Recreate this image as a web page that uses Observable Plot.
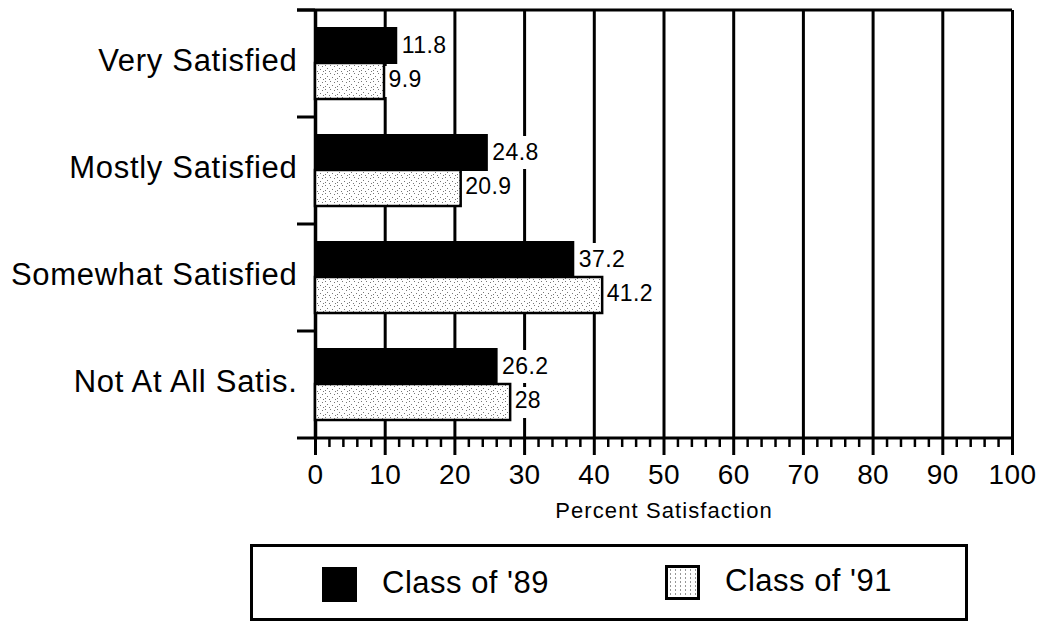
<!DOCTYPE html>
<html>
<head>
<meta charset="utf-8">
<script src="https://cdn.jsdelivr.net/npm/d3@7"></script>
<script src="https://cdn.jsdelivr.net/npm/@observablehq/plot@0.6"></script>
<style>
  html, body { margin: 0; padding: 0; background: #fff; }
  body { width: 1042px; height: 623px; overflow: hidden; position: relative; font-family: "Liberation Sans", Arial, Helvetica, sans-serif; }
  #legend { position: absolute; left: 250px; top: 544px; width: 712px; height: 71px; border: 3px solid #000; background: #fff; }
  .sw { position: absolute; width: 35px; height: 35px; box-sizing: border-box; }
  .lt { position: absolute; font-size: 31px; line-height: 35px; color: #000; white-space: nowrap; letter-spacing: 0.5px; }
  #chart g[aria-label="y-axis tick label"] text { letter-spacing: 0.7px; }
  #chart g[aria-label="x-axis tick label"] text { letter-spacing: 0.4px; }
  #chart .vlabel text { letter-spacing: 0.4px; }
  #chart .xtitle text { letter-spacing: 1.1px; }
</style>
</head>
<body>
<div id="chart"></div>
<div id="legend"></div>
<script>
// ---- data ----
const categories = ["Very Satisfied", "Mostly Satisfied", "Somewhat Satisfied", "Not At All Satis."];
const seriesNames = ["Class of '89", "Class of '91"];
const class89 = [11.8, 24.8, 37.2, 26.2];
const class91 = [9.9, 20.9, 41.2, 28];
const majorTicks = [0, 10, 20, 30, 40, 50, 60, 70, 80, 90, 100];
const minorTicks = [2, 4, 6, 8, 12, 14, 16, 18, 22, 24, 26, 28, 32, 34, 36, 38, 42, 44, 46, 48,
  52, 54, 56, 58, 62, 64, 66, 68, 72, 74, 76, 78, 82, 84, 86, 88, 92, 94, 96, 98];
const xLabel = "Percent Satisfaction";

// ---- layout ----
const W = 1042, H = 540;
const mTop = 10, mBottom = H - 438, mLeft = 315, mRight = 30;
const bw = (H - mTop - mBottom) / categories.length; // band height
const pxPerUnit = (W - mLeft - mRight) / 100;
const font = '"Liberation Sans", Arial, Helvetica, sans-serif';

const rows89 = categories.map((c, i) => ({category: c, value: class89[i], series: seriesNames[0]}));
const rows91 = categories.map((c, i) => ({category: c, value: class91[i], series: seriesNames[1]}));

// text width measurement for white label backgrounds
const ctx = document.createElement("canvas").getContext("2d");
ctx.font = "23px " + font;
const labelW = (v) => (ctx.measureText(String(v)).width + 8) / pxPerUnit;

const ins89 = {insetTop: 17, insetBottom: bw - 54};
const ins91 = {insetTop: 53, insetBottom: bw - 89};
const tickLen = 18 / pxPerUnit;

const chart = Plot.plot({
  width: W,
  height: H,
  marginTop: mTop,
  marginBottom: mBottom,
  marginLeft: mLeft,
  marginRight: mRight,
  style: {fontFamily: font, color: "#000", background: "#fff", overflow: "visible"},
  x: {domain: [0, 100]},
  y: {domain: categories, padding: 0},
  marks: [
    // vertical grid lines
    Plot.ruleX(majorTicks.slice(1), {stroke: "#000", strokeWidth: 3}),
    // left axis line
    Plot.ruleX([0], {stroke: "#000", strokeWidth: 3.5}),
    // category boundary ticks on the left (top edge of each band)
    Plot.barX(categories, {y: d => d, x1: -tickLen, x2: 0, fill: "#000", insetTop: -1.5, insetBottom: bw - 1.5}),
    // top frame line
    Plot.barX(categories.slice(0, 1), {y: d => d, x1: -tickLen, x2: 100, fill: "#000", insetTop: -1.5, insetBottom: bw - 1.5}),
    // bottom axis line
    Plot.barX(categories.slice(-1), {y: d => d, x1: -tickLen, x2: 100, fill: "#000", insetTop: bw - 1.5, insetBottom: -1.5}),
    // label backgrounds
    Plot.barX(rows89, {y: "category", x1: "value", x2: d => d.value + labelW(d.value), fill: "#fff", insetTop: 19, insetBottom: bw - 52}),
    Plot.barX(rows91, {y: "category", x1: "value", x2: d => d.value + labelW(d.value), fill: "#fff", insetTop: 56, insetBottom: bw - 87}),
    // bars
    Plot.barX(rows89, {y: "category", x: "value", fill: "#000", ...ins89}),
    Plot.barX(rows91, {y: "category", x: "value", fill: "url(#dots)", stroke: "#000", strokeWidth: 2.5, ...ins91}),
    // value labels
    Plot.text(rows89, {y: "category", x: "value", text: d => String(d.value), textAnchor: "start", dx: 4, dy: -18, fontSize: 23, fill: "#000", className: "vlabel"}),
    Plot.text(rows91, {y: "category", x: "value", text: d => String(d.value), textAnchor: "start", dx: 4, dy: 16, fontSize: 23, fill: "#000", className: "vlabel"}),
    // axes
    Plot.axisX({ticks: minorTicks, tickSize: 9, tickFormat: () => "", strokeWidth: 2.5, label: null}),
    Plot.axisX({ticks: majorTicks, tickSize: 17, tickPadding: 9, fontSize: 28, strokeWidth: 3, label: null, tickFormat: d => String(d)}),
    Plot.axisY({tickSize: 0, tickPadding: 18, fontSize: 31, label: null, dy: -3}),
    Plot.text([xLabel], {frameAnchor: "bottom", dy: 72, fontSize: 22, lineAnchor: "middle", fill: "#000", text: d => d, className: "xtitle"})
  ]
});

// dotted pattern (sparse grey dots on white)
const svg = d3.select(chart);
const pat = svg.insert("defs", ":first-child").append("pattern")
  .attr("id", "dots").attr("patternUnits", "userSpaceOnUse")
  .attr("width", 12).attr("height", 8);
pat.append("rect").attr("width", 12).attr("height", 8).attr("fill", "#fff");
[[1, 1], [6, 1], [10, 2], [3, 4], [8, 5], [1, 6], [5, 7], [11, 7]].forEach(([x, y]) =>
  pat.append("rect").attr("x", x).attr("y", y).attr("width", 1).attr("height", 1).attr("fill", "#777"));

// ensure classes exist for letter spacing on the text marks
svg.selectAll('g[aria-label="text"]').each(function() {
  const g = d3.select(this);
  const t = g.selectAll("text");
  if (t.size() === 1) g.classed("xtitle", true); else g.classed("vlabel", true);
});

document.getElementById("chart").appendChild(chart);

// legend
const legend = d3.select("#legend");
const items = [
  {name: seriesNames[0], sx: 69, sy: 20, tx: 129},
  {name: seriesNames[1], sx: 412, sy: 18, tx: 472}
];
items.forEach((it, i) => {
  const sw = legend.append("div").attr("class", "sw")
    .style("left", it.sx + "px").style("top", it.sy + "px");
  if (i === 0) sw.style("background", "#000");
  else {
    sw.style("border", "3px solid #000")
      .style("background-color", "#fff")
      .style("background-image", "radial-gradient(#888 0.6px, transparent 0.8px)")
      .style("background-size", "5px 4px");
  }
  legend.append("div").attr("class", "lt")
    .style("left", it.tx + "px").style("top", (it.sy - 2) + "px").text(it.name);
});
</script>
</body>
</html>
